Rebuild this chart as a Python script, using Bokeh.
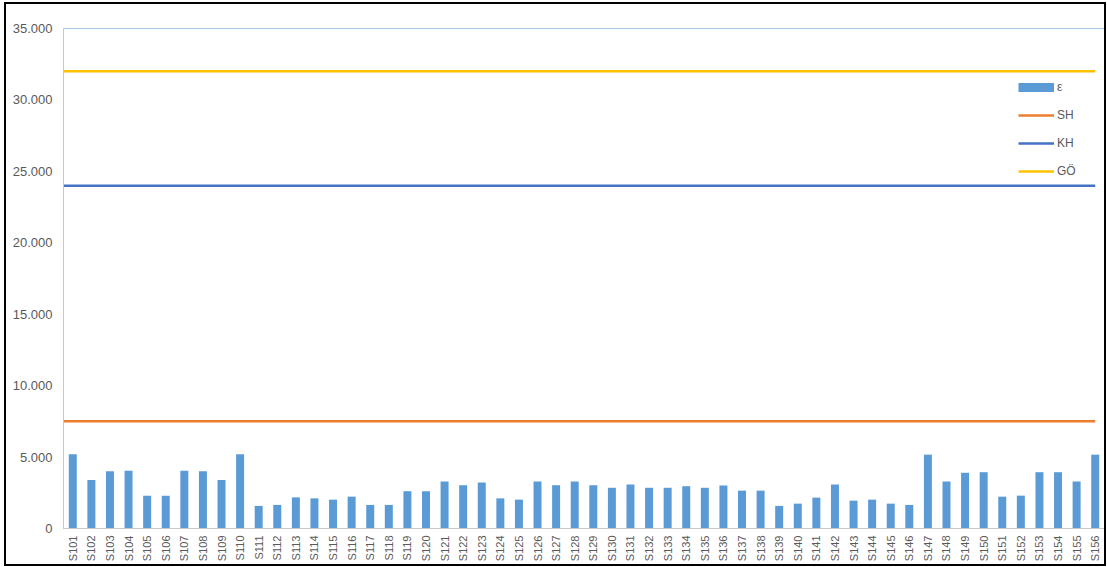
from bokeh.plotting import figure
from bokeh.models import Range1d, FixedTicker, Legend, LegendItem, ColumnDataSource
from bokeh.embed import file_html
from bokeh.resources import INLINE
import math

# Samples S101 … S156
categories = ["S%d" % i for i in range(101, 157)]

# Measured strain per sample (ε)
eps = [5200, 3400, 4000, 4050, 2300, 2300, 4050, 4000, 3400, 5200,
       1580, 1650, 2180, 2110, 2020, 2230, 1650, 1650, 2610, 2610,
       3290, 3030, 3220, 2110, 2020, 3290, 3030, 3290, 3030, 2850,
       3080, 2850, 2850, 2960, 2850, 3010, 2650, 2650, 1580, 1740,
       2160, 3080, 1950, 2020, 1740, 1650, 5170, 3290, 3900, 3940,
       2230, 2300, 3940, 3940, 3290, 5170]

# Limit levels
limit_names = ["SH", "KH", "GÖ"]
limit_values = [7500, 24000, 32000]
limit_colors = ["#ED7D31", "#4472C4", "#FFC000"]

# Value axis
y_ticks = [0, 5000, 10000, 15000, 20000, 25000, 30000, 35000]
y_tick_labels = ["0", "5.000", "10.000", "15.000", "20.000", "25.000", "30.000", "35.000"]

n = len(categories)
xs = list(range(n))

p = figure(width=1102, height=564, output_backend="svg", toolbar_location=None,
           x_range=Range1d(-0.5, n - 0.5), y_range=Range1d(0, 35000),
           min_border_left=57, min_border_right=4, min_border_top=24, min_border_bottom=40,
           background_fill_color="white", border_fill_color="white")
p.styles = {"border": "2px solid #000000", "margin-left": "4px", "margin-top": "2px",
            "box-sizing": "border-box"}
p.outline_line_color = "#A9C6E2"
p.outline_line_width = 1

src = ColumnDataSource(dict(x=xs, eps=eps))
bars = p.vbar(x="x", top="eps", width=0.43, source=src, fill_color="#5B9BD5", line_color=None)

items = []
# legend swatch for the bar series (flat rectangle)
nan = float("nan")
swatch = p.line(x=[0, 1], y=[nan, nan], line_color="#5B9BD5", line_width=9, line_cap="butt")
items.append(LegendItem(label="ε", renderers=[swatch]))
for name, val, col in zip(limit_names, limit_values, limit_colors):
    r = p.line(x=[-0.5, n - 1], y=[val, val], line_color=col, line_width=2.5)
    items.append(LegendItem(label=name, renderers=[r]))

# axes
p.xgrid.visible = False
p.ygrid.ticker = FixedTicker(ticks=[35000])
p.ygrid.grid_line_color = "#A9C6E2"
p.ygrid.grid_line_width = 2

for ax in (p.xaxis[0], p.yaxis[0]):
    ax.axis_line_color = "#C8C8C8"
    ax.major_tick_line_color = None
    ax.minor_tick_line_color = None
    ax.major_tick_out = 0
    ax.major_tick_in = 0
    ax.minor_tick_out = 0
    ax.minor_tick_in = 0
    ax.major_label_text_font = "Liberation Sans"
    ax.major_label_text_color = "#595959"

p.yaxis.ticker = FixedTicker(ticks=y_ticks)
p.yaxis.major_label_overrides = {t: s for t, s in zip(y_ticks, y_tick_labels)}
p.yaxis.major_label_standoff = 11
p.yaxis.major_label_text_font_size = "13px"

p.xaxis.ticker = FixedTicker(ticks=xs)
p.xaxis.major_label_overrides = {i: c for i, c in zip(xs, categories)}
p.xaxis.major_label_orientation = math.pi / 2
p.xaxis.major_label_standoff = 7
p.xaxis.major_label_text_font_size = "11px"

legend = Legend(items=items, location=(955, 347), orientation="vertical",
                glyph_width=36, glyph_height=20, label_height=20, spacing=8,
                label_standoff=3, padding=0, margin=0,
                border_line_color=None, background_fill_alpha=0,
                label_text_font="Liberation Sans", label_text_font_size="12px",
                label_text_color="#595959")
p.add_layout(legend, "center")

open("out.html", "w").write(file_html(p, INLINE))
